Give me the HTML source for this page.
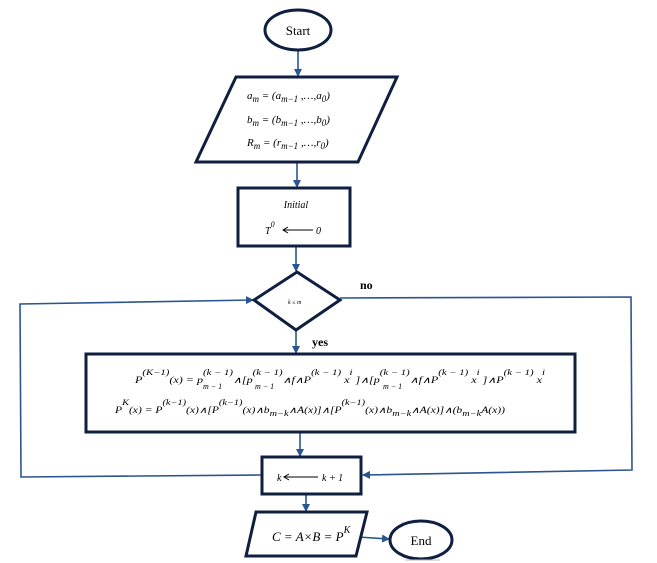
<!DOCTYPE html>
<html><head><meta charset="utf-8"><style>
html,body{margin:0;padding:0;background:#fff}
svg{display:block}
text{font-family:"Liberation Serif",serif}
.i{font-style:italic}
</style></head><body>
<svg width="657" height="563" viewBox="0 0 657 563" xmlns="http://www.w3.org/2000/svg">
<defs><marker id="a" markerWidth="8" markerHeight="8" refX="7" refY="4" orient="auto" markerUnits="userSpaceOnUse"><path d="M0,0 L8,4 L0,8 Z" fill="#2a5590"/></marker></defs>
<g fill="none" stroke="#2a5590" stroke-width="1.6">
<line x1="298" y1="50" x2="298" y2="76" marker-end="url(#a)"/>
<line x1="297" y1="162" x2="297" y2="187" marker-end="url(#a)"/>
<line x1="296" y1="246" x2="296" y2="271" marker-end="url(#a)"/>
<line x1="296" y1="330" x2="296" y2="353" marker-end="url(#a)"/>
<line x1="300" y1="432" x2="300" y2="456" marker-end="url(#a)"/>
<line x1="306" y1="494" x2="306" y2="511" marker-end="url(#a)"/>
<line x1="358" y1="537" x2="389" y2="539" marker-end="url(#a)"/>
<polyline points="340,298 631,297 632,470 363,475" marker-end="url(#a)"/>
<polyline points="262,475 21,477 20,304 253,300" marker-end="url(#a)"/>
</g>
<g fill="#fff" stroke="#0f1f3f" stroke-width="3">
<ellipse cx="298" cy="30" rx="33" ry="20"/>
<polygon points="236,77 397,77 358,162 196,162"/>
<rect x="238" y="188" width="112" height="58"/>
<polygon points="297,272 340,300 296,330 254,300"/>
<rect x="86" y="354" width="489" height="78"/>
<rect x="262" y="457" width="99" height="37"/>
<polygon points="256,512 367,512 356,556 246,556"/>
<ellipse cx="421" cy="540" rx="31" ry="19"/>
</g>
<line x1="405" y1="560" x2="440" y2="560" stroke="#bbb" stroke-width="1"/>
<text x="298" y="35" font-size="13" text-anchor="middle">Start</text>
<text x="421" y="545" font-size="13" text-anchor="middle">End</text>
<text x="360" y="289" font-size="12" font-weight="bold">no</text>
<text x="312" y="346" font-size="12" font-weight="bold">yes</text>
<g class="i" font-size="11">
<text x="247" y="99">a<tspan dy="3" font-size="9">m</tspan><tspan dy="-3"> = (a</tspan><tspan dy="3" font-size="9">m−1</tspan><tspan dy="-3"> ,…,a</tspan><tspan dy="3" font-size="9">0</tspan><tspan dy="-3">)</tspan></text>
<text x="247" y="123">b<tspan dy="3" font-size="9">m</tspan><tspan dy="-3"> = (b</tspan><tspan dy="3" font-size="9">m−1</tspan><tspan dy="-3"> ,…,b</tspan><tspan dy="3" font-size="9">0</tspan><tspan dy="-3">)</tspan></text>
<text x="247" y="146">R<tspan dy="3" font-size="9">m</tspan><tspan dy="-3"> = (r</tspan><tspan dy="3" font-size="9">m−1</tspan><tspan dy="-3"> ,…,r</tspan><tspan dy="3" font-size="9">0</tspan><tspan dy="-3">)</tspan></text>
<text x="296" y="208" text-anchor="middle" font-size="10">Initial</text>
<text x="265" y="234" font-size="10">T<tspan dy="-7" font-size="8">0</tspan></text>
<text x="316" y="234" font-size="10">0</text>
<text x="288" y="304" font-size="6">k ≤ m</text>
<text x="277" y="481" font-size="10">k</text>
<text x="322" y="481" font-size="10">k + 1</text>
<text x="272" y="541" font-size="13">C = A×B = P<tspan dy="-8" font-size="10">K</tspan></text>
</g>
<g stroke="#000" stroke-width="1"><line x1="284" y1="230" x2="313" y2="230"/><line x1="285" y1="477" x2="318" y2="477"/></g>
<path d="M288,227 L283,230 L288,233 M289,474 L284,477 L289,480" fill="none" stroke="#000"/>
<g class="i" font-size="9">
<text x="135" y="383" textLength="410" lengthAdjust="spacingAndGlyphs">P<tspan dy="-8" font-size="8">(K−1)</tspan><tspan dy="8">(x) = p</tspan><tspan dy="-8" font-size="8">(k − 1)</tspan><tspan dy="8">∧[p</tspan><tspan dy="-8" font-size="8">(k − 1)</tspan><tspan dy="8">∧f∧P</tspan><tspan dy="-8" font-size="8">(k − 1)</tspan><tspan dy="8"> x</tspan><tspan dy="-8" font-size="8">i</tspan><tspan dy="8"> ]∧[p</tspan><tspan dy="-8" font-size="8">(k − 1)</tspan><tspan dy="8">∧f∧P</tspan><tspan dy="-8" font-size="8">(k − 1)</tspan><tspan dy="8"> x</tspan><tspan dy="-8" font-size="8">i</tspan><tspan dy="8"> ]∧P</tspan><tspan dy="-8" font-size="8">(k − 1)</tspan><tspan dy="8"> x</tspan><tspan dy="-8" font-size="8">i</tspan></text>
<text x="203" y="389" font-size="8">m − 1</text>
<text x="255" y="389" font-size="8">m − 1</text>
<text x="383" y="389" font-size="8">m − 1</text>
<text x="115" y="413" textLength="390" lengthAdjust="spacingAndGlyphs">P<tspan dy="-8" font-size="8">K</tspan><tspan dy="8">(x) = P</tspan><tspan dy="-8" font-size="8">(k−1)</tspan><tspan dy="8">(x)∧[P</tspan><tspan dy="-8" font-size="8">(k−1)</tspan><tspan dy="8">(x)∧b</tspan><tspan dy="3" font-size="8">m−k</tspan><tspan dy="-3">∧A(x)]∧[P</tspan><tspan dy="-8" font-size="8">(k−1)</tspan><tspan dy="8">(x)∧b</tspan><tspan dy="3" font-size="8">m−k</tspan><tspan dy="-3">∧A(x)]∧(b</tspan><tspan dy="3" font-size="8">m−k</tspan><tspan dy="-3">A(x))</tspan></text>
</g>
</svg>
</body></html>
